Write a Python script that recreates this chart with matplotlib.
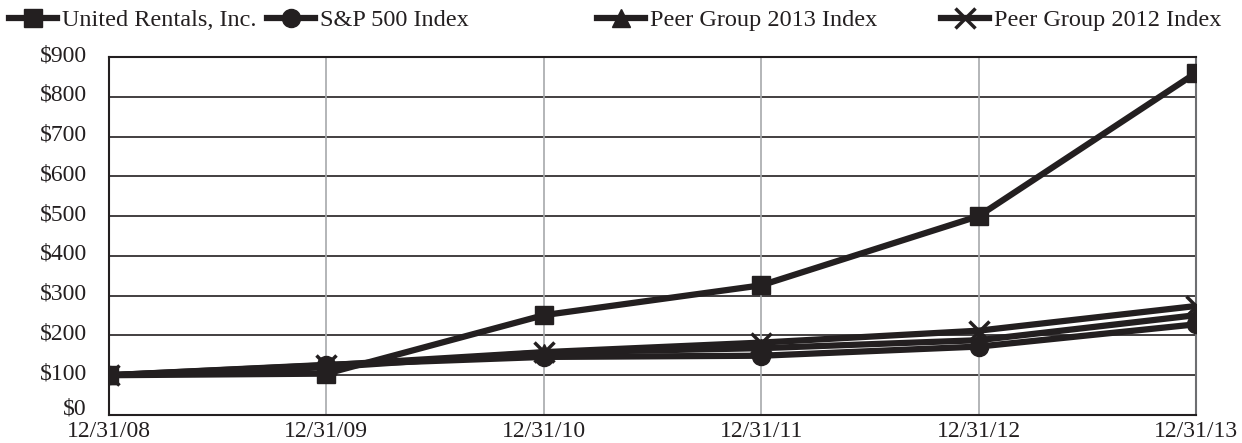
import matplotlib
matplotlib.use("Agg")
import matplotlib.pyplot as plt
import matplotlib.transforms as mtransforms
import numpy as np

dates = ["12/31/08", "12/31/09", "12/31/10", "12/31/11", "12/31/12", "12/31/13"]
united_rentals = [100, 104, 251, 326, 500, 860]
sp500 = [100, 126, 146, 149, 172, 228]
peer_2013 = [100, 120, 157, 168, 188, 251]
peer_2012 = [100, 125, 158, 182, 212, 274]
yticks = [0, 100, 200, 300, 400, 500, 600, 700, 800, 900]

ink = "#231f20"
plt.rcParams['font.family'] = ['Liberation Serif', 'DejaVu Serif']

fig = plt.figure(figsize=(12.42, 4.43), dpi=100)
ax = fig.add_axes([109 / 1242, 28 / 443, (1196 - 109) / 1242, (415 - 57) / 443])

x = np.arange(len(dates))
lw = 4.5
l13, = ax.plot(x, peer_2013, color=ink, lw=lw, marker='^', ms=13, label="Peer Group 2013 Index", zorder=3)
lsp, = ax.plot(x, sp500, color=ink, lw=lw, marker='o', ms=13, label="S&P 500 Index", zorder=3)
l12, = ax.plot(x, peer_2012, color=ink, lw=lw, marker='x', ms=14, mew=2.5, label="Peer Group 2012 Index", zorder=3)
lur, = ax.plot(x, united_rentals, color=ink, lw=lw, marker='s', ms=13, label="United Rentals, Inc.", zorder=4)

ax.set_xlim(0, len(dates) - 1)
ax.set_ylim(0, 900)
ax.set_yticks(yticks)
ax.set_yticklabels([f"${v}" for v in yticks])
ax.set_xticks(x)
ax.set_xticklabels(dates)
ax.tick_params(length=0, labelsize=17, colors=ink)
ax.tick_params(axis='y', pad=16)
ax.tick_params(axis='x', pad=4)

# y labels sit a little above their gridlines in the reference
for i, lab in enumerate(ax.get_yticklabels()):
    up = 8 if i == 0 else 4
    lab.set_transform(lab.get_transform() + mtransforms.ScaledTranslation(0, up / 100, fig.dpi_scale_trans))

for v in yticks[1:]:
    ax.axhline(v, color=ink, lw=1.2, zorder=1)
for xi in x[1:-1]:
    ax.axvline(xi, color="#a7a9ac", lw=1.2, zorder=1)
for s in ax.spines.values():
    s.set_color(ink)
    s.set_linewidth(1.5)
ax.spines['right'].set_color("#6d6e71")

# one legend per entry, placed where the reference puts them
for h, px in [(lur, 4), (lsp, 262), (l13, 592), (l12, 936)]:
    leg = fig.legend([h], [h.get_label()], loc='upper left', bbox_to_anchor=(px / 1242, 0.99),
                     frameon=False, fontsize=17.5, handlelength=2.0, handletextpad=0.2,
                     borderpad=0.1, borderaxespad=0.1)
    for t in leg.get_texts():
        t.set_color(ink)

fig.savefig("out.png", dpi=100)
